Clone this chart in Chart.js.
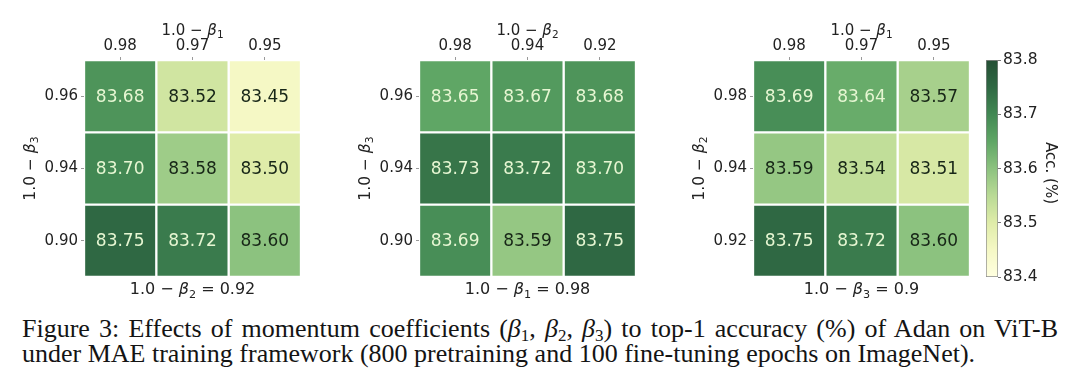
<!DOCTYPE html>
<html><head><meta charset="utf-8">
<script src="https://cdn.jsdelivr.net/npm/chart.js@4.4.0/dist/chart.umd.min.js"></script>
<style>
html,body{margin:0;padding:0;background:#fff;width:1080px;height:391px;overflow:hidden;position:relative;}
canvas.c{position:absolute;}
#cap{position:absolute;left:22px;top:316px;width:1036px;font-family:"Liberation Serif","Times New Roman",serif;font-size:26px;line-height:25px;color:#141414;}
#cap .l1{text-align:justify;text-align-last:justify;white-space:nowrap;}
#cap .l2{white-space:nowrap;}
#cap sub{font-size:17px;line-height:0;vertical-align:-4px;}
</style></head><body>
<canvas id="h1" class="c" style="left:0px;top:0px" width="330" height="310"></canvas>
<canvas id="h2" class="c" style="left:330px;top:0px" width="330" height="310"></canvas>
<canvas id="h3" class="c" style="left:660px;top:0px" width="320" height="310"></canvas>
<canvas id="cb" class="c" style="left:975px;top:0px" width="105" height="310"></canvas>
<div id="cap">
<div class="l1">Figure 3: Effects of momentum coefficients (<i>β</i><sub>1</sub>, <i>β</i><sub>2</sub>, <i>β</i><sub>3</sub>) to top-1 accuracy (%) of Adan on ViT-B</div>
<div class="l2">under MAE training framework (800 pretraining and 100 fine-tuning epochs on ImageNet).</div>
</div>
<script>
// ---- data ----
const p1Cols = ['0.98', '0.97', '0.95'];
const p1Rows = ['0.96', '0.94', '0.90'];
const p1Vals = [[83.68, 83.52, 83.45], [83.70, 83.58, 83.50], [83.75, 83.72, 83.60]];
const p1Top = {pre: '1.0 − ', sym: 'β', sub: '1', post: ''};
const p1Left = {pre: '1.0 − ', sym: 'β', sub: '3', post: ''};
const p1Bottom = {pre: '1.0 − ', sym: 'β', sub: '2', post: ' = 0.92'};

const p2Cols = ['0.98', '0.94', '0.92'];
const p2Rows = ['0.96', '0.94', '0.90'];
const p2Vals = [[83.65, 83.67, 83.68], [83.73, 83.72, 83.70], [83.69, 83.59, 83.75]];
const p2Top = {pre: '1.0 − ', sym: 'β', sub: '2', post: ''};
const p2Left = {pre: '1.0 − ', sym: 'β', sub: '3', post: ''};
const p2Bottom = {pre: '1.0 − ', sym: 'β', sub: '1', post: ' = 0.98'};

const p3Cols = ['0.98', '0.97', '0.95'];
const p3Rows = ['0.98', '0.94', '0.92'];
const p3Vals = [[83.69, 83.64, 83.57], [83.59, 83.54, 83.51], [83.75, 83.72, 83.60]];
const p3Top = {pre: '1.0 − ', sym: 'β', sub: '1', post: ''};
const p3Left = {pre: '1.0 − ', sym: 'β', sub: '2', post: ''};
const p3Bottom = {pre: '1.0 − ', sym: 'β', sub: '3', post: ' = 0.9'};

const cbMin = 83.4, cbMax = 83.8;
const cbTicks = [83.4, 83.5, 83.6, 83.7, 83.8];
const cbTitle = 'Acc. (%)';

// ---- style ----
const cmapStops = [
  [0.0, '#ffffe0'], [0.125, '#f5f8c5'], [0.25, '#dfeca9'], [0.375, '#b9da95'],
  [0.5, '#8cc27f'], [0.625, '#5fa665'], [0.75, '#428853'], [0.875, '#2f6843'], [1.0, '#244f34']
];
const FONT = 'DejaVu Sans';
const TXT = '#222222';

function hex2rgb(h){return [parseInt(h.substr(1,2),16),parseInt(h.substr(3,2),16),parseInt(h.substr(5,2),16)];}
function colorFor(v){
  let t = (v - cbMin) / (cbMax - cbMin); t = Math.max(0, Math.min(1, t));
  for (let i = 0; i < cmapStops.length - 1; i++) {
    const [t0, c0] = cmapStops[i], [t1, c1] = cmapStops[i+1];
    if (t <= t1) {
      const f = (t - t0) / (t1 - t0), a = hex2rgb(c0), b = hex2rgb(c1);
      return 'rgb(' + a.map((x, k) => Math.round(x + (b[k]-x)*f)).join(',') + ')';
    }
  }
  return cmapStops[cmapStops.length-1][1];
}

function drawMath(ctx, m, x, y, size, rot){
  ctx.save(); ctx.translate(x, y); ctx.rotate(rot || 0);
  const f = size + 'px "' + FONT + '"', fi = 'italic ' + f, fs = (size*0.7).toFixed(1) + 'px "' + FONT + '"';
  ctx.font = f; const w1 = ctx.measureText(m.pre).width;
  ctx.font = fi; const w2 = ctx.measureText(m.sym).width;
  ctx.font = fs; const w3 = ctx.measureText(m.sub).width;
  ctx.font = f; const w4 = ctx.measureText(m.post).width;
  let cx = -(w1 + w2 + w3 + w4) / 2;
  ctx.textBaseline = 'middle'; ctx.textAlign = 'left'; ctx.fillStyle = TXT;
  ctx.font = f; ctx.fillText(m.pre, cx, 0); cx += w1;
  ctx.font = fi; ctx.fillText(m.sym, cx, 0); cx += w2;
  ctx.font = fs; ctx.fillText(m.sub, cx, size*0.3); cx += w3;
  ctx.font = f; ctx.fillText(m.post, cx, 0);
  ctx.restore();
}

function heat(id, L, W, aL, aR, cols, rows, vals, tTop, tLeft, tBottom){
  const n = rows.length;
  const datasets = rows.map((r, i) => ({
    data: vals[i].map(() => [n-1-i, n-i]),
    backgroundColor: vals[i].map(colorFor),
    borderColor: '#ffffff', borderWidth: 1.5, borderSkipped: false,
    grouped: false, barPercentage: 1, categoryPercentage: 1
  }));
  const labelsPlugin = {
    id: 'cellLabels',
    afterDatasetsDraw(chart){
      const ctx = chart.ctx;
      ctx.save();
      ctx.font = '17px "' + FONT + '"'; ctx.textAlign = 'center'; ctx.textBaseline = 'middle';
      chart.data.datasets.forEach((ds, di) => {
        chart.getDatasetMeta(di).data.forEach((el, j) => {
          const v = vals[di][j];
          ctx.fillStyle = v > 83.62 ? '#e6f6d2' : '#172617';
          ctx.fillText(v.toFixed(2), el.x, (el.y + el.base) / 2 + 1);
        });
      });
      ctx.restore();
    },
    afterDraw(chart){
      const ctx = chart.ctx, a = chart.chartArea, cx = (a.left + a.right) / 2;
      drawMath(ctx, tTop, cx, 31, 15, 0);
      drawMath(ctx, tBottom, cx, 290, 16, 0);
      drawMath(ctx, tLeft, a.left - 53, (a.top + a.bottom) / 2, 15.5, -Math.PI/2);
    }
  };
  new Chart(document.getElementById(id), {
    type: 'bar',
    data: {labels: cols, datasets},
    options: {
      responsive: false, animation: false, events: [],
      layout: {padding: {left: 0, top: 0, right: L + W - aR, bottom: 33}},
      plugins: {legend: {display: false}, tooltip: {enabled: false}},
      scales: {
        x: {
          position: 'top', offset: true,
          grid: {display: true, drawOnChartArea: false, offset: false, tickLength: 3, color: '#9a9a9a'},
          border: {display: false},
          ticks: {font: {family: FONT, size: 15}, color: TXT, padding: 2, maxRotation: 0},
          afterFit: s => { s.height = 60; }
        },
        y: {
          min: 0, max: n,
          afterBuildTicks: s => { s.ticks = rows.map((_, i) => ({value: n - 0.5 - i})); },
          grid: {display: true, drawOnChartArea: false, tickLength: 3, color: '#9a9a9a'},
          border: {display: false},
          ticks: {font: {family: FONT, size: 15}, color: TXT, padding: 3,
                  callback: v => rows[Math.round(n - 0.5 - v)]},
          afterFit: s => { s.width = aL - L; }
        }
      }
    },
    plugins: [labelsPlugin]
  });
}

heat('h1', 0, 330, 84, 301, p1Cols, p1Rows, p1Vals, p1Top, p1Left, p1Bottom);
heat('h2', 330, 330, 419, 636, p2Cols, p2Rows, p2Vals, p2Top, p2Left, p2Bottom);
heat('h3', 660, 320, 753, 970, p3Cols, p3Rows, p3Vals, p3Top, p3Left, p3Bottom);

new Chart(document.getElementById('cb'), {
  type: 'bar',
  data: {labels: [''], datasets: [{
    data: [[cbMin, cbMax]],
    backgroundColor: c => {
      const a = c.chart.chartArea; if (!a) return '#eeeeee';
      const g = c.chart.ctx.createLinearGradient(0, a.bottom, 0, a.top);
      cmapStops.forEach(s => g.addColorStop(s[0], s[1]));
      return g;
    },
    borderColor: '#8a8a8a', borderWidth: 1, borderSkipped: false,
    barPercentage: 1, categoryPercentage: 1
  }]},
  options: {
    responsive: false, animation: false, events: [],
    layout: {padding: {left: 11, top: 60, bottom: 33, right: 0}},
    plugins: {legend: {display: false}, tooltip: {enabled: false}},
    scales: {
      x: {display: false},
      y: {
        position: 'right', min: cbMin, max: cbMax,
        afterBuildTicks: s => { s.ticks = cbTicks.map(v => ({value: v})); },
        ticks: {font: {family: FONT, size: 15.5}, color: TXT, padding: 2, callback: v => v.toFixed(1)},
        grid: {display: true, drawOnChartArea: false, tickLength: 3, color: '#777777'},
        border: {display: false},
        afterFit: s => { s.width = 82; }
      }
    }
  },
  plugins: [{
    id: 'cbTitle',
    afterDraw(chart){
      const ctx = chart.ctx;
      ctx.save(); ctx.translate(1050 - 975, 173); ctx.rotate(Math.PI/2);
      ctx.font = '15px "' + FONT + '"'; ctx.fillStyle = TXT; ctx.textAlign = 'center'; ctx.textBaseline = 'middle';
      ctx.fillText(cbTitle, 0, 0);
      ctx.restore();
    }
  }]
});
</script>
</body></html>
